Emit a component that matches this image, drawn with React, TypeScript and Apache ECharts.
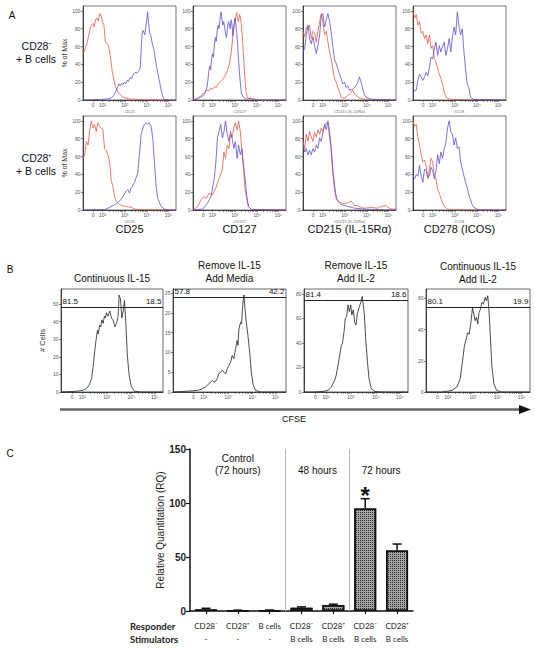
import React, { useEffect, useRef } from 'react';
import * as echarts from 'echarts';

const FONT = "'Liberation Sans', Arial, Helvetica, sans-serif";
const FONT_C = "Lato, 'Open Sans', sans-serif";
const RED = '#ec5a44';
const BLUE = '#5c50d8';

// ---------------- Panel A data ----------------
const aMarkers = ['CD25', 'CD127', 'CD215 (IL-15Rα)', 'CD278 (ICOS)'];
const aAxisNames = ['CD25', 'CD127', 'CD215 (IL-15Rα)', 'ICOS'];
const aRowTop = ['CD28⁻', 'CD28⁺'];
const aRowBottom = ['+ B cells', '+ B cells'];
const logTickLabels = ['0', '10²', '10³', '10⁴', '10⁵'];
const logTickChannels = [11, 21, 45, 69, 92];
const aYTicks = [0, 20, 40, 60, 80, 100];

// CD28- + B cells
const negCD25Red = [[0,56],[1.5,54],[3,60],[4.5,64],[6,72],[7.5,80],[9,84],[10.5,86],[12,82],[13.5,90],[15,92],[16.5,89],[18,97],[19.5,94],[21,88],[22.5,84],[24,66],[25.5,63],[27,62],[28.5,55],[30,44],[31.5,32],[33,24],[35,15],[37,10],[39,7],[42,4],[45,2.5],[49,1.5],[54,1],[60,0.6],[70,0.3],[80,0],[100,0]];
const negCD25Blue = [[0,0],[10,0.3],[18,0.5],[24,1],[28,1.5],[31,3],[33,5],[35,9],[37,14],[38.5,18],[40,16],[41.5,19],[43,17],[44.5,20],[46,18],[47.5,22],[49,21],[50.5,25],[52,24],[54,28],[56,31],[58,30],[60,33],[61.5,36],[62.5,55],[63.5,74],[64.5,78],[65.5,76],[66.5,73],[67.5,82],[68.5,90],[69.5,99],[70.5,86],[71.5,76],[73,72],[74.5,63],[76,58],[77.5,48],[79,38],[80.5,30],[82,22],[83.5,14],[85,7],[86.5,2],[88,0.5],[92,0],[100,0]];
const negCD127Red = [[0,0],[3,1],[6,3],[9,5],[12,8],[15,11],[17,10],[19,13],[21,12],[23,15],[25,14],[27,18],[29,20],[31,22],[33,25],[35,28],[37,33],[39,40],[41,52],[42,62],[43,74],[44,82],[45,86],[46,93],[47,98],[48,91],[49,88],[50,96],[51,93],[52,84],[53,72],[54,55],[55,38],[56,22],[57,10],[58,4],[60,1.5],[65,0.5],[72,0],[100,0]];
const negCD127Blue = [[0,0],[4,1],[8,3],[11,5],[13,8],[15,14],[16,22],[17,32],[18,38],[19,34],[20,46],[21,52],[22,48],[23,62],[24,70],[25,66],[26,78],[27,84],[28,80],[29,90],[30,99],[31,92],[32,84],[33,88],[34,82],[35,74],[36,70],[37,80],[38,88],[39,86],[40,80],[41,90],[42,84],[43,72],[44,84],[45,92],[46,86],[47,76],[48,62],[49,45],[50,30],[51,18],[52,8],[54,3],[57,1],[62,2],[66,1],[70,0],[100,0]];
const negCD215Red = [[0,77],[1.8,71],[3.6,82],[5.4,79],[7.1,84],[8.9,69],[10.7,77],[12.5,75],[14.3,65],[16,77],[17.9,88],[19.6,97],[21.4,88],[23.2,73],[25,77],[26.8,65],[28.6,54],[30.4,46],[32,35],[34,24],[35.7,20],[37.5,14],[39.3,9],[41,3],[44.6,2],[48.2,5],[51.8,9],[53.6,11],[55.4,7],[57,5],[60.7,2],[66,1],[75,0.5],[100,0]];
const negCD215Blue = [[0,54],[1.8,58],[3.6,73],[5.4,84],[7.1,69],[8.9,63],[10.7,71],[12.5,61],[14.3,52],[16,61],[17.9,73],[19.6,94],[21.4,97],[23.2,82],[25,90],[26.8,97],[28.6,88],[30.4,75],[32,61],[34,45],[35.7,41],[37.5,35],[39.3,29],[41,24],[42.9,18],[44.6,20],[46.4,14],[48.2,16],[50,11],[53.6,12],[57,16],[59,20],[60.7,26],[62.5,20],[64.3,12],[66,6],[68,3],[73,1],[80,0.5],[90,0.5],[100,0]];
const negCD278Red = [[0,99],[1.8,92],[3.5,96],[5.3,84],[7,88],[8.8,75],[10.6,77],[12.4,69],[14.1,73],[15.9,63],[17.7,73],[19.4,58],[21.2,61],[23,46],[24.7,43],[26.5,35],[28.3,29],[30,24],[31.8,18],[33.6,9],[35.3,3],[38.9,1],[45,0.5],[100,0]];
const negCD278Blue = [[0,7],[1.8,11],[3.5,11],[5.3,22],[7,29],[8.8,26],[10.6,22],[12.4,26],[14.1,31],[15.9,27],[17.7,37],[19.4,48],[21.2,46],[23,58],[24.7,65],[26.5,50],[28.3,61],[30,54],[31.8,60],[33.6,65],[35.3,50],[37.1,58],[38.9,69],[40.6,54],[42.4,71],[44.2,82],[45.9,73],[47.7,99],[49.5,82],[51.2,73],[53,80],[54.8,54],[56.5,35],[58.3,18],[60,14],[61.8,3],[65.4,0.5],[75,0.5],[100,0]];

// CD28+ + B cells
const posCD25Red = [[0,58],[1.8,62],[3.6,77],[5.4,73],[7.1,88],[8.9,100],[10.7,92],[12.5,96],[14.3,88],[16,98],[17.9,94],[19.6,92],[21.4,90],[23.2,69],[25,67],[26.8,62],[28.6,54],[30.4,33],[32,27],[34,15],[35.7,10],[39.3,6],[44.6,4],[51.8,3],[55.4,1],[66,0.3],[100,0]];
const posCD25Blue = [[0,0],[15,0.3],[23.2,0.5],[26.8,2],[33.9,6],[39.3,10],[42.9,15],[46.4,21],[48.2,23],[50,19],[51.8,25],[55.4,31],[58.9,42],[60.7,62],[62.5,85],[64.3,92],[66,96],[67.9,98],[69.6,96],[71.4,98],[73.2,94],[75,81],[76.8,54],[78.6,27],[80.4,13],[83.9,4],[87.5,1],[92,0],[100,0]];
const posCD127Red = [[0,0],[5.3,4],[8.8,12],[12.3,15],[14,13],[17.5,19],[21,17],[24.6,25],[28,35],[31.6,46],[33.3,65],[35,58],[36.8,73],[38.6,69],[40.4,85],[42,81],[43.9,92],[45.6,98],[47.4,90],[49,100],[50.9,88],[52.6,65],[54.4,46],[56,23],[57.9,12],[59.6,4],[63,0.5],[100,0]];
const posCD127Blue = [[0,0],[10.5,1],[15.8,8],[19.3,15],[22.8,35],[24.6,54],[26.3,81],[28,88],[29.8,96],[31.6,81],[33.3,88],[35,100],[36.8,85],[38.6,77],[40.4,88],[42,81],[43.9,69],[45.6,77],[47.4,58],[49,73],[50.9,62],[52.6,69],[54.4,50],[56,35],[57.9,15],[59.6,4],[63,0.5],[100,0]];
const posCD215Red = [[0,77],[1.8,69],[3.6,85],[5.4,77],[7.1,88],[8.9,82],[10.7,77],[12.5,87],[14.3,82],[16,90],[17.9,85],[19.6,92],[21.4,88],[23.2,94],[25,98],[26.8,96],[28.6,82],[30.4,65],[32,42],[34,23],[35.7,13],[37.5,10],[41,8],[44.6,7],[48.2,8],[51.8,10],[55.4,5],[58.9,5],[62.5,3],[66,2],[73.2,3],[80.4,2],[83.9,4],[89.3,5],[92.9,2],[96.4,1],[100,1]];
const posCD215Blue = [[0,73],[1.8,65],[3.6,69],[5.4,62],[7.1,67],[8.9,62],[10.7,69],[12.5,65],[14.3,73],[16,69],[17.9,81],[19.6,77],[21.4,87],[23.2,96],[25,90],[26.8,100],[28.6,88],[30.4,69],[32,46],[34,27],[35.7,15],[37.5,10],[41,6],[48.2,4],[55.4,2],[66,1],[83.9,0.3],[100,0]];
const posCD278Red = [[0,100],[1.8,94],[3.5,96],[5.3,81],[7,73],[8.8,62],[10.6,54],[12.4,56],[14.1,50],[15.9,35],[17.7,46],[19.4,58],[21.2,54],[23,38],[24.7,35],[26.5,23],[28.3,19],[30,13],[31.8,8],[33.6,4],[37.1,1],[45,0.3],[100,0]];
const posCD278Blue = [[0,37],[1.8,35],[3.5,40],[5.3,38],[7,50],[8.8,38],[10.6,31],[12.4,46],[14.1,44],[15.9,37],[17.7,38],[19.4,48],[21.2,44],[23,35],[24.7,44],[26.5,62],[28.3,52],[30,65],[31.8,58],[33.6,69],[35.3,75],[37.1,92],[38.9,100],[40.6,88],[42.4,85],[44.2,73],[45.9,81],[47.7,69],[49.5,71],[51.2,54],[53,46],[54.8,38],[56.5,31],[58.3,25],[60,17],[61.8,12],[63.6,6],[65.4,3],[68.9,1],[72.4,0],[100,0]];

// ---------------- Panel B data ----------------
const bTitles = ['Continuous IL-15', 'Remove IL-15\nAdd Media', 'Remove IL-15\nAdd IL-2', 'Continuous IL-15\nAdd IL-2'];
const bGateLeft = ['81.5', '57.8', '81.4', '80.1'];
const bGateRight = ['18.5', '42.2', '18.6', '19.9'];
const bGateLevel = [48.3, 24, 75, 54.3];
const bYMax = [58.5, 26, 84, 66];
const bYTicks = [[0, 10, 20, 30, 40, 50], [0, 5, 10, 15, 20, 25], [0, 20, 40, 60, 80], [0, 20, 40, 60]];
const bXMin = [0, -9, 0, 0];
const bXMax = [100, 102, 100, 100];

const cfseContIL15 = [[0,0],[15,0.4],[21.8,1],[25,2],[27.7,4],[30,7.6],[31.6,15],[33,23],[34.9,32],[35.8,35],[36.5,33],[38,38],[39,37],[40,41],[41.4,39],[42.5,43],[43.5,42],[44.6,45],[46,43],[47.9,46],[49.5,42],[51,41],[52.8,37],[54.4,39],[56,43],[57,55],[58.3,53],[59.6,42],[61,46],[62.2,52],[63.5,40],[65,21],[66.8,9.5],[69,3],[72,0.4],[78,0],[100,0]];
const cfseRemoveMedia = [[-9,0],[5,0.2],[15,0.4],[19.8,0.8],[23,1.3],[26.4,2.1],[29.6,2.9],[31.2,2.5],[32.9,2.7],[34.5,3.4],[36,4.6],[37.8,5],[39.4,5.5],[41,5],[42.7,4.6],[44.3,5.9],[46,6.7],[47.6,7.6],[49.2,9.2],[50.8,8.4],[52.5,11],[54,13],[54.8,11.8],[55.8,16],[57.4,17.6],[58.4,17.2],[59.4,21.8],[60.7,24.5],[61.7,21],[63,17.6],[64.6,14.3],[66.6,9.2],[67.9,5],[69.8,1.7],[72,0.4],[77,0],[102,0]];
const cfseRemoveIL2 = [[0,0],[10,0],[18.3,0.5],[23,1.4],[26.3,4],[29.5,9.6],[31,13.7],[32.7,22],[34.3,30],[35.9,38],[36.9,39.6],[38.5,49],[39.7,60],[41,61.5],[42.3,71],[43.6,65.6],[44.9,71],[46,62.8],[47.4,67],[48.7,57],[50,54.6],[51.3,64],[52.6,68],[53.8,71],[55,73.8],[56,78],[57,71],[58,64],[59.3,43.7],[61,24.6],[62.5,11],[64.7,2.7],[68,0.5],[73,0],[100,0]];
const cfseContIL2 = [[0,0],[15.3,0],[25,1],[29.7,3.2],[32.9,8.5],[35,19],[37,30],[38.7,34],[40,38],[41.5,37],[43,43.6],[44.7,54],[46,50],[47.3,45.7],[48.6,47.9],[49.8,43.6],[51,51],[52.4,53],[53.7,57.4],[55.3,56.4],[56.9,60.6],[58,58.5],[59.4,61.7],[60.7,51],[62,34],[63.3,17],[65.2,5.3],[68,1],[72.8,0],[100,0]];

// ---------------- Panel C data ----------------
const cResponders = ['CD28⁻', 'CD28⁺', 'B cells', 'CD28⁻', 'CD28⁺', 'CD28⁻', 'CD28⁺'];
const cStimulators = ['-', '-', '-', 'B cells', 'B cells', 'B cells', 'B cells'];
const cValues = [1.5, 0.5, 0.6, 3, 5.5, 95, 56];
const cErrors = [1, 0.3, 0.3, 0.8, 0.8, 9, 6];
const cGroups = ['Control\n(72 hours)', '48 hours', '72 hours'];
const cSigIndex = 5;

// ---------------- Layout ----------------
const A_LEFTS = [83, 193, 303, 413];
const A_TOPS = [6, 116];
const A_W = 93;
const A_H = 94;
const B_BOXES = [[61, 102], [173, 113], [304, 104], [426, 104]];
const B_TOP = 289;
const B_H = 103;
const C_BOX = { left: 190, top: 449, width: 223, height: 162 };
const C_GROUP_X = [1.5, 4, 6];
const C_GROUP_Y = [136, 130.5, 130.5];
const C_SEPARATORS = [3, 5];

function buildOption() {
  const grid: any[] = [];
  const xAxis: any[] = [];
  const yAxis: any[] = [];
  const series: any[] = [];

  const tickAll: number[] = logTickChannels.slice();
  for (let i = 1; i < logTickChannels.length - 1; i++) {
    for (let k = 2; k < 10; k++) {
      tickAll.push(+(logTickChannels[i] + (logTickChannels[i + 1] - logTickChannels[i]) * Math.log10(k)).toFixed(2));
    }
  }

  const histX = (gi: number, min: number, max: number, name: string) => ({
    type: 'value', gridIndex: gi, min, max,
    axisLine: { show: true, onZero: false, lineStyle: { color: '#222', width: 0.8 } },
    axisTick: { show: true, customValues: tickAll, length: 2, lineStyle: { color: '#333', width: 0.5 } },
    axisLabel: {
      show: true, customValues: logTickChannels,
      formatter: (v: number) => { const j = logTickChannels.indexOf(v); return j >= 0 ? logTickLabels[j] : ''; },
      fontSize: 5, margin: 2.5, color: '#555', fontFamily: FONT,
    },
    splitLine: { show: false },
    name, nameLocation: 'middle', nameGap: 9,
    nameTextStyle: { fontSize: 4, color: '#666', fontFamily: FONT },
  });
  const histY = (gi: number, max: number, ticks: number[], name: string, gap: number, nameSize: number) => ({
    type: 'value', gridIndex: gi, min: 0, max,
    axisLine: { show: true, onZero: false, lineStyle: { color: '#222', width: 0.8 } },
    axisTick: { show: true, customValues: ticks, length: 2, lineStyle: { color: '#333', width: 0.6 } },
    axisLabel: { show: true, customValues: ticks, fontSize: 5, margin: 2.5, color: '#555', fontFamily: FONT },
    splitLine: { show: false },
    name, nameLocation: 'middle', nameGap: gap,
    nameTextStyle: { fontSize: nameSize, color: '#333', fontFamily: FONT },
  });
  const line = (gi: number, data: number[][], color: string, width = 0.8) => ({
    type: 'line', xAxisIndex: gi, yAxisIndex: gi, data, showSymbol: false, symbol: 'none',
    lineStyle: { color, width }, silent: true, z: 2,
  });

  // Panel A
  const aCurves = [
    [[negCD25Red, negCD25Blue], [negCD127Red, negCD127Blue], [negCD215Red, negCD215Blue], [negCD278Red, negCD278Blue]],
    [[posCD25Red, posCD25Blue], [posCD127Red, posCD127Blue], [posCD215Red, posCD215Blue], [posCD278Red, posCD278Blue]],
  ];
  for (let r = 0; r < 2; r++) {
    for (let c = 0; c < 4; c++) {
      const gi = grid.length;
      grid.push({ left: A_LEFTS[c], top: A_TOPS[r], width: A_W, height: A_H, show: true, borderColor: '#555', borderWidth: 0.8, outerBoundsMode: 'none' });
      xAxis.push(histX(gi, 0, 100, aAxisNames[c]));
      yAxis.push(histY(gi, 105.5, aYTicks, c === 0 ? '% of Max' : '', 10, 7));
      series.push(line(gi, aCurves[r][c][0], RED));
      series.push(line(gi, aCurves[r][c][1], BLUE));
    }
  }

  // Panel B
  const bCurves = [cfseContIL15, cfseRemoveMedia, cfseRemoveIL2, cfseContIL2];
  for (let j = 0; j < 4; j++) {
    const gi = grid.length;
    grid.push({ left: B_BOXES[j][0], top: B_TOP, width: B_BOXES[j][1], height: B_H, show: true, borderColor: '#444', borderWidth: 0.8, outerBoundsMode: 'none' });
    xAxis.push(histX(gi, bXMin[j], bXMax[j], ''));
    yAxis.push(histY(gi, bYMax[j], bYTicks[j], j === 0 ? '# Cells' : '', 15, 7.5));
    const s: any = line(gi, bCurves[j], '#222', 0.8);
    s.markLine = {
      silent: true, symbol: 'none', animation: false,
      lineStyle: { color: '#222', width: 1, type: 'solid' },
      label: { fontSize: 8, color: '#111', fontFamily: FONT, distance: 1.5 },
      data: [
        { yAxis: bGateLevel[j], label: { formatter: bGateLeft[j], position: 'insideStartTop' } },
        { yAxis: bGateLevel[j], label: { formatter: bGateRight[j], position: 'insideEndTop' } },
      ],
    };
    series.push(s);
  }

  // Panel C
  const cg = grid.length;
  grid.push({ ...C_BOX, show: false, outerBoundsMode: 'none' });
  const cx = xAxis.length;
  xAxis.push({
    type: 'category', gridIndex: cg, data: cResponders,
    axisLine: { show: true, lineStyle: { color: '#111', width: 1.5 } },
    axisTick: { show: true, alignWithLabel: true, length: 3, lineStyle: { color: '#111', width: 1.2 } },
    axisLabel: {
      interval: 0, margin: 8,
      formatter: (_v: string, i: number) => `{r|${cResponders[i]}}\n{s|${cStimulators[i]}}`,
      rich: {
        r: { fontSize: 8, lineHeight: 13, fontFamily: FONT_C, color: '#222' },
        s: { fontSize: 8, lineHeight: 13, fontFamily: FONT_C, color: '#222' },
      },
    },
  });
  const cxv = xAxis.length;
  xAxis.push({ type: 'value', gridIndex: cg, min: 0, max: 7, show: false });
  const cy = yAxis.length;
  yAxis.push({
    type: 'value', gridIndex: cg, min: 0, max: 150, interval: 50,
    axisLine: { show: true, lineStyle: { color: '#111', width: 1.5 } },
    axisTick: { show: true, length: 4, lineStyle: { color: '#111', width: 1.2 } },
    axisLabel: { fontSize: 10, fontWeight: 'bold', color: '#222', margin: 4, fontFamily: FONT },
    splitLine: { show: false },
    name: 'Relative Quantitation (RQ)', nameLocation: 'middle', nameGap: 22,
    nameTextStyle: { fontSize: 10, color: '#222', fontFamily: FONT },
  });
  series.push({
    type: 'bar', xAxisIndex: cx, yAxisIndex: cy, data: cValues, barWidth: 22, z: 2,
    itemStyle: {
      color: '#a6a6a6', borderColor: '#111', borderWidth: 1.5,
      decal: { symbol: 'rect', symbolSize: 1, dashArrayX: [1, 1], dashArrayY: [1, 1], color: 'rgba(20,20,20,0.85)', rotation: 0 },
    },
  });
  series.push({
    type: 'custom', xAxisIndex: cx, yAxisIndex: cy, z: 3,
    data: cValues.map((v, i) => [i, v, v + cErrors[i]]),
    renderItem: (_p: any, api: any) => {
      const i = api.value(0);
      const base = api.coord([i, api.value(1)]);
      const top = api.coord([i, api.value(2)]);
      const children: any[] = [
        { type: 'line', shape: { x1: top[0], y1: base[1], x2: top[0], y2: top[1] }, style: { stroke: '#111', lineWidth: 1.5 } },
        { type: 'line', shape: { x1: top[0] - 4.5, y1: top[1], x2: top[0] + 4.5, y2: top[1] }, style: { stroke: '#111', lineWidth: 1.5 } },
      ];
      if (i === cSigIndex) {
        children.push({ type: 'text', x: top[0], y: top[1] - 15, style: { text: '*', fontSize: 24, fontWeight: 'bold', fontFamily: FONT, fill: '#111', align: 'center', verticalAlign: 'top' } });
      }
      return { type: 'group', children };
    },
  });
  series.push({
    type: 'scatter', xAxisIndex: cxv, yAxisIndex: cy, symbolSize: 0, silent: true,
    itemStyle: { opacity: 1 },
    data: cGroups.map((g, i) => ({ value: [C_GROUP_X[i], C_GROUP_Y[i]], label: { formatter: g } })),
    label: { show: true, position: 'inside', fontSize: 10, lineHeight: 12, color: '#111', fontFamily: FONT },
    markLine: {
      silent: true, symbol: 'none', animation: false, label: { show: false },
      lineStyle: { color: '#b5b5b5', width: 1, type: 'solid' },
      data: C_SEPARATORS.map((x) => ({ xAxis: x })),
    },
  });

  // graphics
  const txt = (text: string, x: number, y: number, fontSize: number, extra: any = {}) => ({
    type: 'text', x, y, silent: true,
    style: { text, fontSize, fontFamily: FONT, fill: '#111', align: 'center', verticalAlign: 'middle', ...extra },
  });
  const graphic: any[] = [
    txt('A', 12, 15, 10, {}),
    txt('B', 10, 269, 10, {}),
    txt('C', 10, 453, 10, {}),
    txt(aRowTop[0], 37, 46, 10.5),
    txt(aRowBottom[0], 36, 59, 10.5),
    txt(aRowTop[1], 37, 158, 10.5),
    txt(aRowBottom[1], 36, 171, 10.5),
    ...aMarkers.map((m, c) => txt(m, A_LEFTS[c] + A_W / 2, 229, 11)),
    ...bTitles.map((t, j) => txt(t, B_BOXES[j][0] + B_BOXES[j][1] / 2, j === 0 ? 278 : (j === 3 ? 273 : 271.5), 10, { lineHeight: 13 })),
    { type: 'line', silent: true, shape: { x1: 60, y1: 409.5, x2: 521, y2: 409.5 }, style: { stroke: '#666', lineWidth: 2.5 } },
    { type: 'polygon', silent: true, shape: { points: [[519, 405], [531, 409.5], [519, 414]] }, style: { fill: '#111' } },
    txt('CFSE', 294, 419, 9),
    txt('Responder', 130, 626, 9.5, { align: 'left', fontFamily: FONT_C, fontWeight: 'bold', fill: '#222' }),
    txt('Stimulators', 130, 639, 9.5, { align: 'left', fontFamily: FONT_C, fontWeight: 'bold', fill: '#222' }),
  ];

  return {
    animation: false,
    backgroundColor: '#ffffff',
    textStyle: { fontFamily: FONT },
    grid, xAxis, yAxis, series, graphic,
  };
}

export default function App() {
  const ref = useRef<HTMLDivElement>(null);
  useEffect(() => {
    const chart = echarts.init(ref.current!, null, { renderer: 'svg' });
    chart.setOption(buildOption() as any);
    return () => chart.dispose();
  }, []);
  return <div ref={ref} style={{ position: 'fixed', left: 0, top: 0, width: 535, height: 648, background: '#fff' }} />;
}
